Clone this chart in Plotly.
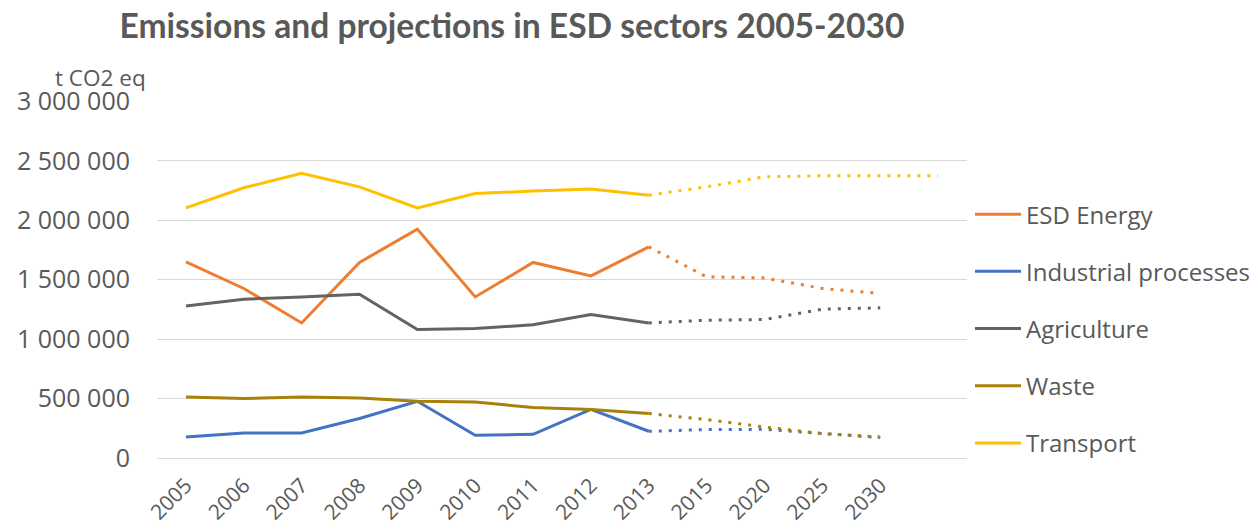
import plotly.graph_objects as go

categories = ["2005", "2006", "2007", "2008", "2009", "2010", "2011", "2012", "2013",
              "2015", "2020", "2025", "2030", " "]
hist_cats = categories[0:9]
proj_cats = categories[8:13]
proj_cats_transport = categories[8:14]

esd_hist = [1650000, 1426000, 1136000, 1645000, 1925000, 1355000, 1645000, 1532000, 1776000]
esd_proj = [1776000, 1524000, 1515000, 1426000, 1384000]
ind_hist = [177000, 210000, 210000, 332000, 477000, 191000, 199000, 410000, 225000]
ind_proj = [225000, 239000, 241000, 205000, 172000]
agr_hist = [1279000, 1336000, 1355000, 1378000, 1081000, 1090000, 1120000, 1207000, 1136000]
agr_proj = [1136000, 1159000, 1165000, 1252000, 1263000]
waste_hist = [513000, 500000, 513000, 505000, 477000, 471000, 424000, 407000, 374000]
waste_proj = [374000, 323000, 261000, 205000, 177000]
trans_hist = [2104000, 2273000, 2394000, 2281000, 2104000, 2225000, 2245000, 2262000, 2211000]
trans_proj = [2211000, 2281000, 2365000, 2374000, 2374000, 2374000]

series = [
    ("ESD Energy", "#ED7D31", esd_hist, esd_proj, proj_cats),
    ("Industrial processes", "#4472C4", ind_hist, ind_proj, proj_cats),
    ("Agriculture", "#636363", agr_hist, agr_proj, proj_cats),
    ("Waste", "#A8810A", waste_hist, waste_proj, proj_cats),
    ("Transport", "#FFC000", trans_hist, trans_proj, proj_cats_transport),
]

fig = go.Figure()
for name, color, h, p, pc in series:
    fig.add_trace(go.Scatter(x=hist_cats, y=h, mode="lines", name=name,
                             legendgroup=name, line=dict(color=color, width=3)))
    fig.add_trace(go.Scatter(x=pc, y=p, mode="lines", name=name, showlegend=False,
                             legendgroup=name,
                             line=dict(color=color, width=3, dash="3px,7px")))

gray = "#595959"
# the page body adds an 8px offset, so the figure is 8px smaller than the window
W, H = 1251, 517
fig.update_layout(
    width=W, height=H,
    margin=dict(l=149, r=292, t=93, b=67, autoexpand=False),
    paper_bgcolor="white", plot_bgcolor="white",
    separators=". ",
    font=dict(family="Open Sans", color=gray),
    title=dict(text="<b>Emissions and projections in ESD sectors 2005-2030</b>",
               font=dict(family="Lato", size=33.6, color=gray),
               x=504 / W, xanchor="center", xref="container", yref="container",
               y=1 - 18 / H, yanchor="middle"),
    legend=dict(x=1.0037, xanchor="left", y=0.745, yanchor="top",
                font=dict(size=24, color=gray), tracegroupgap=23, itemwidth=46,
                bgcolor="rgba(0,0,0,0)"),
    showlegend=True,
    annotations=[dict(text="t CO2 eq", xref="x domain", yref="y domain",
                      x=(100 - 157) / 810, y=(458 - 77) / 357,
                      xanchor="center", yanchor="middle",
                      showarrow=False, font=dict(size=22.5, color=gray))],
)

fig.update_xaxes(type="category", categoryorder="array", categoryarray=categories,
                 range=[-0.5, 13.5], tickangle=-45, tickfont=dict(size=21, color=gray),
                 showgrid=False, showline=True, linecolor="#d9d9d9", linewidth=1,
                 ticks="", fixedrange=True, automargin=False, ticklabelstandoff=6)
fig.update_yaxes(range=[0, 3003000], dtick=500000, tickformat=",d",
                 tickfont=dict(size=25, color=gray), showgrid=True, gridcolor="#d9d9d9",
                 gridwidth=1, zeroline=False, showline=False, ticks="",
                 ticklabelstandoff=26, automargin=False)

fig.write_html("out.html")
